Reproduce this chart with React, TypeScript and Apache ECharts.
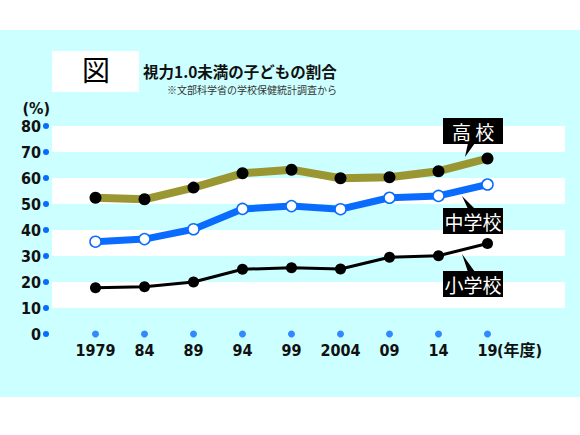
import React, { useEffect, useRef } from 'react';
import * as echarts from 'echarts';

const years = ['1979', '84', '89', '94', '99', '2004', '09', '14', '19'];
const highSchool = [52.4, 51.8, 56.3, 61.8, 63.2, 59.9, 60.3, 62.6, 67.5];
const juniorHigh = [35.5, 36.5, 40.3, 48.1, 49.2, 48.0, 52.4, 53.1, 57.5];
const elementary = [17.8, 18.2, 20.0, 24.9, 25.5, 25.0, 29.5, 30.1, 34.8];
const yMin = 0;
const yMax = 80;
const yStep = 10;

const NUM_FONT = '"DejaVu Sans Condensed", "DejaVu Sans", "Noto Sans CJK JP", sans-serif';
const JP_FONT = '"Noto Sans CJK JP", sans-serif';
const CYAN = '#ccffff';
const BLUE = '#0a6cff';
const OLIVE = '#9a9632';

// callout box: black rect, white text, small wedge pointing at the line
const callout = (text: string, top: number, wedge: number[][]) => [
  { type: 'polygon', z: 100, shape: { points: wedge }, style: { fill: '#000' } },
  { type: 'rect', z: 100, shape: { x: 443, y: top, width: 60, height: 26 }, style: { fill: '#000' } },
  {
    type: 'text',
    z: 101,
    x: 473,
    y: top + 13,
    style: {
      text,
      fill: '#fff',
      font: `19px ${JP_FONT}`,
      textAlign: 'center',
      textVerticalAlign: 'middle',
    },
  },
];

const App: React.FC = () => {
  const chartRef = useRef<HTMLDivElement>(null);

  useEffect(() => {
    if (!chartRef.current) return undefined;
    const chart = echarts.init(chartRef.current, undefined, { renderer: 'svg' });

    const options = {
      animation: false,
      backgroundColor: CYAN,
      grid: [
        { left: 52, right: 15, top: 126, bottom: 101 },
        { left: 71, right: 68, top: 126, bottom: 101 },
      ],
      xAxis: [
        { type: 'value', gridIndex: 0, show: false, min: 0, max: 1 },
        {
          type: 'category',
          gridIndex: 1,
          data: years,
          boundaryGap: true,
          axisLine: { show: false },
          axisTick: { show: false },
          axisLabel: {
            interval: 0,
            margin: 8,
            color: '#111',
            fontFamily: NUM_FONT,
            fontWeight: 'bold',
            fontSize: 16,
            formatter: (v: string, i: number) =>
              i === years.length - 1 ? `{p|}{n|${v}}{u|(年度)}` : `{n|${v}}`,
            rich: {
              n: { fontFamily: NUM_FONT, fontWeight: 'bold', fontSize: 16, color: '#111' },
              p: { width: 44 },
              u: { width: 44, fontFamily: NUM_FONT, fontWeight: 'bold', fontSize: 16, color: '#111' },
            },
          },
        },
      ],
      yAxis: [
        {
          type: 'value',
          gridIndex: 0,
          min: yMin,
          max: yMax,
          interval: yStep,
          name: '(%)',
          nameLocation: 'end',
          nameGap: 10,
          nameTextStyle: {
            align: 'right',
            verticalAlign: 'bottom',
            padding: [0, 2, 0, 0],
            color: '#111',
            fontFamily: NUM_FONT,
            fontWeight: 'bold',
            fontSize: 16,
          },
          axisLine: { show: false },
          axisTick: { show: false },
          splitLine: { show: false },
          splitArea: { show: true, areaStyle: { color: ['rgba(0,0,0,0)', '#ffffff'] } },
          axisLabel: {
            margin: 3,
            formatter: (v: number) => `{n|${v}}{d|}`,
            rich: {
              n: {
                fontFamily: NUM_FONT,
                fontWeight: 'bold',
                fontSize: 16,
                color: '#111',
                padding: [0, 2, 0, 0],
              },
              d: { width: 6, height: 6, borderRadius: 3, backgroundColor: BLUE },
            },
          },
        },
        { type: 'value', gridIndex: 1, min: yMin, max: yMax, interval: yStep, show: false },
      ],
      series: [
        {
          name: 'xticks',
          type: 'scatter',
          xAxisIndex: 1,
          yAxisIndex: 1,
          silent: true,
          clip: false,
          symbolSize: 7,
          itemStyle: { color: BLUE },
          data: years.map((y) => [y, yMin]),
          z: 1,
        },
        {
          name: '小学校',
          type: 'line',
          xAxisIndex: 1,
          yAxisIndex: 1,
          data: elementary,
          symbol: 'circle',
          symbolSize: 11,
          lineStyle: { color: '#000', width: 3 },
          itemStyle: { color: '#000' },
          z: 3,
        },
        {
          name: '中学校',
          type: 'line',
          xAxisIndex: 1,
          yAxisIndex: 1,
          data: juniorHigh,
          symbol: 'circle',
          symbolSize: 11,
          lineStyle: { color: BLUE, width: 7 },
          itemStyle: { color: '#fff', borderColor: BLUE, borderWidth: 1.5 },
          z: 3,
        },
        {
          name: '高校',
          type: 'line',
          xAxisIndex: 1,
          yAxisIndex: 1,
          data: highSchool,
          symbol: 'circle',
          symbolSize: 12,
          lineStyle: { color: OLIVE, width: 8 },
          itemStyle: { color: '#000' },
          z: 3,
        },
      ],
      graphic: {
        z: 50,
        elements: [
          { type: 'rect', shape: { x: 0, y: 0, width: 580, height: 30 }, style: { fill: '#fff' } },
          { type: 'rect', shape: { x: 0, y: 397, width: 580, height: 38 }, style: { fill: '#fff' } },
          { type: 'rect', shape: { x: 52, y: 51, width: 87, height: 41 }, style: { fill: '#fff' } },
          {
            type: 'text',
            x: 96,
            y: 69,
            style: {
              text: '図',
              fill: '#000',
              font: `28px ${JP_FONT}`,
              textAlign: 'center',
              textVerticalAlign: 'middle',
            },
          },
          {
            type: 'text',
            x: 143,
            y: 71,
            style: {
              text: '視力1.0未満の子どもの割合',
              fill: '#111',
              font: `bold 15.5px ${JP_FONT}`,
              textAlign: 'left',
              textVerticalAlign: 'middle',
            },
          },
          {
            type: 'text',
            x: 337,
            y: 89,
            style: {
              text: '※文部科学省の学校保健統計調査から',
              fill: '#333',
              font: `10px ${JP_FONT}`,
              textAlign: 'right',
              textVerticalAlign: 'middle',
            },
          },
          ...callout('高 校', 118, [[468, 143], [475, 143], [465, 157]]),
          ...callout('中学校', 208, [[468, 209], [475, 209], [462, 196]]),
          ...callout('小学校', 271, [[468, 272], [475, 272], [462, 254]]),
        ],
      },
    };

    chart.setOption(options as any);
    return () => {
      chart.dispose();
    };
  }, []);

  return (
    <div
      ref={chartRef}
      style={{ position: 'absolute', left: 0, top: 0, width: '580px', height: '435px' }}
    />
  );
};

export default App;
